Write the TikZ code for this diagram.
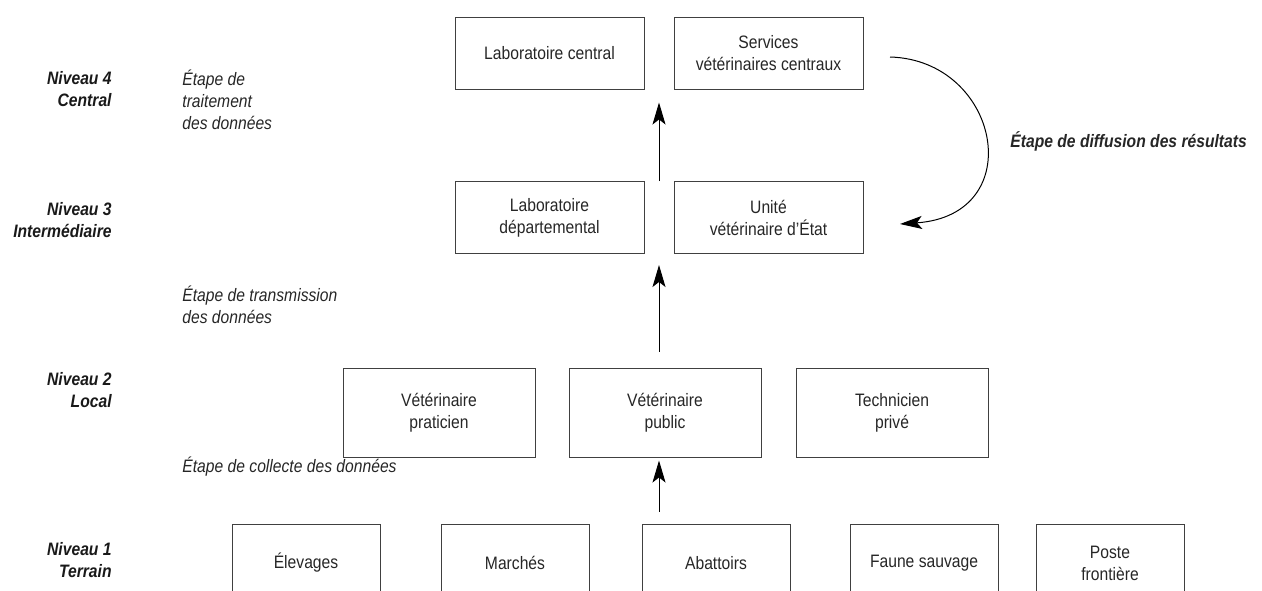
\documentclass[tikz,border=0pt]{standalone}
\usepackage{fontspec}
\setmainfont{Liberation Sans}[FakeStretch=0.87]
\usetikzlibrary{arrows.meta,positioning,calc}

\begin{document}
\begin{tikzpicture}[x=0.5pt, y=-0.5pt, node distance=14.5pt, font=\fontsize{9}{11}\selectfont,
box/.style={draw=black!75,line width=0.5pt,align=center,minimum width=94.5pt,minimum height=36pt,inner sep=0pt,text=black!85},
loc/.style={box,minimum width=96pt,minimum height=44.5pt},
src/.style={box,minimum width=74pt,minimum height=39pt},
lvl/.style={anchor=east,align=right,inner sep=0pt,font=\fontsize{9}{11}\selectfont\bfseries\itshape,text=black!90},
stage/.style={anchor=west,align=left,inner sep=0pt,font=\fontsize{9}{11}\selectfont\itshape,text=black!85},
arr/.style={-{Stealth[length=11pt,width=6.5pt,inset=2.5pt]},line width=0.5pt}]
\useasboundingbox (0,0) rectangle (1262,590);
\clip (0,0) rectangle (1262,590);
% niveau 4
\node[box] (labc) at (549.5,53) {Laboratoire central};
\node[box,right=of labc] (svc) {Services\\vétérinaires centraux};
% niveau 3
\node[box] (labd) at (549.5,217.5) {Laboratoire\\départemental};
\node[box,right=of labd] (uve) {Unité\\vétérinaire d’État};
% niveau 2
\node[loc] (vprat) at (439,412.5) {Vétérinaire\\praticien};
\node[loc,right=16.5pt of vprat] (vpub) {Vétérinaire\\public};
\node[loc,right=17pt of vpub] (tech) {Technicien\\privé};
% niveau 1
\node[src] (elev) at (306,563) {Élevages};
\node[src] (march) at (515,563) {Marchés};
\node[src] (abat) at (716,563) {Abattoirs};
\node[src] (faune) at (924,563) {Faune sauvage};
\node[src] (poste) at (1110,563) {Poste\\frontière};
% labels
\node[lvl] (niv4) at (112,89) {Niveau 4\\Central};
\node[lvl] (niv3) at (112,220) {Niveau 3\\Intermédiaire};
\node[lvl] (niv2) at (112,390) {Niveau 2\\Local};
\node[lvl] (niv1) at (112,560) {Niveau 1\\Terrain};
\node[stage] (trait) at (182,100) {Étape de\\traitement\\des données};
\node[stage] (transm) at (182,305) {Étape de transmission\\des données};
\node[stage] (coll) at (182,467) {Étape de collecte des données};
\node[stage,font=\fontsize{9}{11}\selectfont\bfseries\itshape] (diff) at (1010,141) {Étape de diffusion des résultats};
% flux
\coordinate (axis) at ($(labd.east)!0.5!(uve.west)$);
\draw[arr] ([yshift=6pt]axis |- abat.north) -- ([yshift=-1.5pt]axis |- vpub.south);
\draw[arr] ([yshift=8pt]axis |- vpub.north) -- ([yshift=-5.5pt]axis |- labd.south);
\draw[arr] (axis |- labd.north) -- ([yshift=-6.5pt]axis |- labc.south);
\coordinate (diffA) at (890,57);
\coordinate (diffB) at (900,224);
\draw[arr] (diffA) .. controls (1000,60) and (1030,215) .. (diffB);
\end{tikzpicture}
\end{document}
